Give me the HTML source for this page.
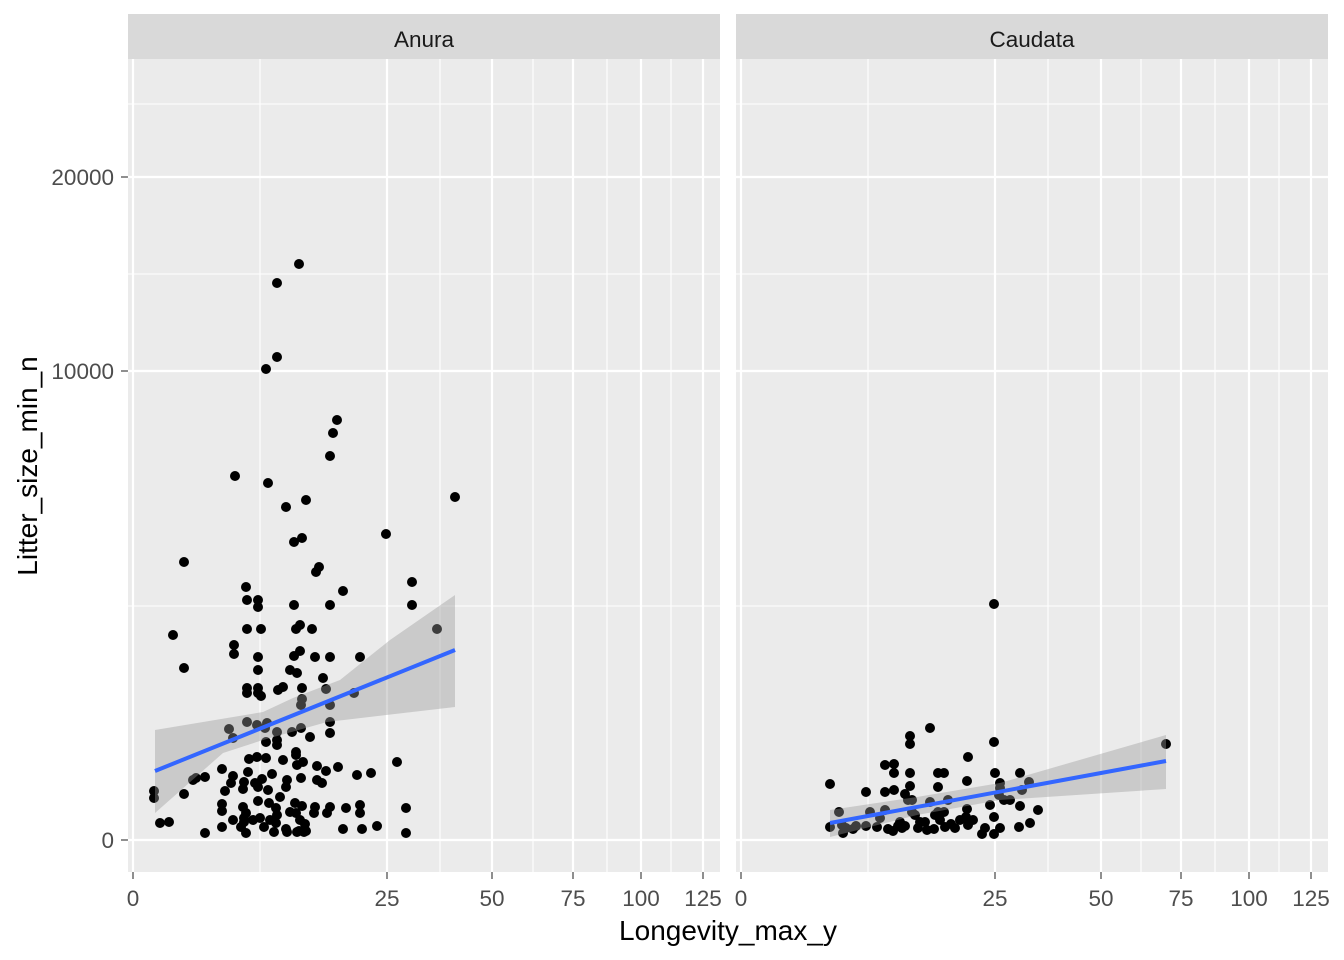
<!DOCTYPE html>
<html><head><meta charset="utf-8"><style>body{margin:0;background:#fff}svg{display:block}.p circle{r:5px}</style></head><body>
<svg width="1344" height="960" xmlns="http://www.w3.org/2000/svg" font-family="Liberation Sans, sans-serif">
<rect width="1344" height="960" fill="#fff"/>
<rect x="128" y="59" width="592" height="813" fill="#ebebeb"/>
<rect x="736" y="59" width="592" height="813" fill="#ebebeb"/>
<rect x="128" y="14" width="592" height="45" fill="#d9d9d9"/>
<rect x="736" y="14" width="592" height="45" fill="#d9d9d9"/>
<text x="424" y="47" font-size="22.5" fill="#1a1a1a" text-anchor="middle">Anura</text>
<text x="1032" y="47" font-size="22.5" fill="#1a1a1a" text-anchor="middle">Caudata</text>
<g stroke="#fff" stroke-width="1.1">
<line x1="128" x2="720" y1="606" y2="606"/><line x1="128" x2="720" y1="274" y2="274"/><line x1="128" x2="720" y1="104" y2="104"/>
<line x1="736" x2="1328" y1="606" y2="606"/><line x1="736" x2="1328" y1="274" y2="274"/><line x1="736" x2="1328" y1="104" y2="104"/>
<line y1="59" y2="872" x1="260" x2="260"/><line y1="59" y2="872" x1="440" x2="440"/><line y1="59" y2="872" x1="533" x2="533"/><line y1="59" y2="872" x1="607" x2="607"/><line y1="59" y2="872" x1="671" x2="671"/>
<line y1="59" y2="872" x1="868" x2="868"/><line y1="59" y2="872" x1="1048" x2="1048"/><line y1="59" y2="872" x1="1141" x2="1141"/><line y1="59" y2="872" x1="1215" x2="1215"/><line y1="59" y2="872" x1="1279" x2="1279"/>
</g>
<g stroke="#fff" stroke-width="2.2">
<line x1="128" x2="720" y1="840" y2="840"/><line x1="128" x2="720" y1="371" y2="371"/><line x1="128" x2="720" y1="177" y2="177"/>
<line x1="736" x2="1328" y1="840" y2="840"/><line x1="736" x2="1328" y1="371" y2="371"/><line x1="736" x2="1328" y1="177" y2="177"/>
<line y1="59" y2="872" x1="133" x2="133"/><line y1="59" y2="872" x1="387" x2="387"/><line y1="59" y2="872" x1="492" x2="492"/><line y1="59" y2="872" x1="573" x2="573"/><line y1="59" y2="872" x1="641" x2="641"/><line y1="59" y2="872" x1="703" x2="703"/>
<line y1="59" y2="872" x1="741" x2="741"/><line y1="59" y2="872" x1="995" x2="995"/><line y1="59" y2="872" x1="1101" x2="1101"/><line y1="59" y2="872" x1="1181" x2="1181"/><line y1="59" y2="872" x1="1249" x2="1249"/><line y1="59" y2="872" x1="1311" x2="1311"/>
</g>
<g fill="#000" class="p">
<circle cx="299" cy="264" r="5"/><circle cx="277" cy="283" r="5"/><circle cx="277" cy="357" r="5"/><circle cx="266" cy="369" r="5"/><circle cx="337" cy="420" r="5"/><circle cx="333" cy="433" r="5"/><circle cx="330" cy="456" r="5"/><circle cx="235" cy="476" r="5"/><circle cx="268" cy="483" r="5"/><circle cx="455" cy="497" r="5"/><circle cx="286" cy="507" r="5"/><circle cx="306" cy="500" r="5"/><circle cx="302" cy="538" r="5"/><circle cx="294" cy="542" r="5"/><circle cx="386" cy="534" r="5"/><circle cx="184" cy="562" r="5"/><circle cx="319" cy="567" r="5"/><circle cx="316" cy="572" r="5"/><circle cx="246" cy="587" r="5"/><circle cx="412" cy="582" r="5"/><circle cx="343" cy="591" r="5"/><circle cx="247" cy="600" r="5"/><circle cx="258" cy="600" r="5"/><circle cx="258" cy="607" r="5"/><circle cx="294" cy="605" r="5"/><circle cx="330" cy="605" r="5"/><circle cx="412" cy="605" r="5"/><circle cx="173" cy="635" r="5"/><circle cx="247" cy="629" r="5"/><circle cx="261" cy="629" r="5"/><circle cx="296" cy="629" r="5"/><circle cx="300" cy="625" r="5"/><circle cx="312" cy="629" r="5"/><circle cx="234" cy="645" r="5"/><circle cx="234" cy="654" r="5"/><circle cx="258" cy="657" r="5"/><circle cx="294" cy="656" r="5"/><circle cx="300" cy="651" r="5"/><circle cx="315" cy="657" r="5"/><circle cx="330" cy="657" r="5"/><circle cx="360" cy="657" r="5"/><circle cx="184" cy="668" r="5"/><circle cx="258" cy="670" r="5"/><circle cx="290" cy="670" r="5"/><circle cx="297" cy="673" r="5"/><circle cx="323" cy="678" r="5"/><circle cx="247" cy="688" r="5"/><circle cx="247" cy="693" r="5"/><circle cx="258" cy="688" r="5"/><circle cx="258" cy="693" r="5"/><circle cx="261" cy="696" r="5"/><circle cx="283" cy="687" r="5"/><circle cx="278" cy="690" r="5"/><circle cx="302" cy="688" r="5"/><circle cx="302" cy="699" r="5"/><circle cx="326" cy="689" r="5"/><circle cx="301" cy="705" r="5"/><circle cx="330" cy="705" r="5"/><circle cx="354" cy="693" r="5"/><circle cx="229" cy="729" r="5"/><circle cx="233" cy="738" r="5"/><circle cx="247" cy="722" r="5"/><circle cx="257" cy="725" r="5"/><circle cx="265" cy="728" r="5"/><circle cx="267" cy="723" r="5"/><circle cx="266" cy="742" r="5"/><circle cx="277" cy="732" r="5"/><circle cx="292" cy="732" r="5"/><circle cx="277" cy="740" r="5"/><circle cx="301" cy="728" r="5"/><circle cx="296" cy="752" r="5"/><circle cx="310" cy="737" r="5"/><circle cx="330" cy="722" r="5"/><circle cx="330" cy="733" r="5"/><circle cx="296" cy="755" r="5"/><circle cx="277" cy="745" r="5"/><circle cx="266" cy="758" r="5"/><circle cx="249" cy="759" r="5"/><circle cx="257" cy="757" r="5"/><circle cx="283" cy="760" r="5"/><circle cx="297" cy="765" r="5"/><circle cx="303" cy="762" r="5"/><circle cx="338" cy="767" r="5"/><circle cx="301" cy="778" r="5"/><circle cx="317" cy="766" r="5"/><circle cx="357" cy="775" r="5"/><circle cx="371" cy="773" r="5"/><circle cx="397" cy="762" r="5"/><circle cx="222" cy="769" r="5"/><circle cx="233" cy="776" r="5"/><circle cx="248" cy="772" r="5"/><circle cx="244" cy="782" r="5"/><circle cx="255" cy="783" r="5"/><circle cx="262" cy="779" r="5"/><circle cx="272" cy="774" r="5"/><circle cx="287" cy="780" r="5"/><circle cx="286" cy="787" r="5"/><circle cx="317" cy="780" r="5"/><circle cx="322" cy="783" r="5"/><circle cx="326" cy="771" r="5"/><circle cx="231" cy="783" r="5"/><circle cx="193" cy="780" r="5"/><circle cx="196" cy="778" r="5"/><circle cx="205" cy="777" r="5"/><circle cx="184" cy="794" r="5"/><circle cx="154" cy="791" r="5"/><circle cx="154" cy="798" r="5"/><circle cx="225" cy="791" r="5"/><circle cx="243" cy="789" r="5"/><circle cx="258" cy="787" r="5"/><circle cx="268" cy="790" r="5"/><circle cx="258" cy="801" r="5"/><circle cx="243" cy="807" r="5"/><circle cx="246" cy="813" r="5"/><circle cx="269" cy="803" r="5"/><circle cx="280" cy="797" r="5"/><circle cx="276" cy="808" r="5"/><circle cx="295" cy="803" r="5"/><circle cx="296" cy="813" r="5"/><circle cx="302" cy="806" r="5"/><circle cx="315" cy="807" r="5"/><circle cx="330" cy="807" r="5"/><circle cx="360" cy="805" r="5"/><circle cx="360" cy="813" r="5"/><circle cx="327" cy="813" r="5"/><circle cx="346" cy="808" r="5"/><circle cx="406" cy="808" r="5"/><circle cx="222" cy="804" r="5"/><circle cx="222" cy="811" r="5"/><circle cx="233" cy="820" r="5"/><circle cx="244" cy="818" r="5"/><circle cx="244" cy="822" r="5"/><circle cx="253" cy="820" r="5"/><circle cx="260" cy="818" r="5"/><circle cx="270" cy="820" r="5"/><circle cx="276" cy="823" r="5"/><circle cx="286" cy="829" r="5"/><circle cx="300" cy="820" r="5"/><circle cx="305" cy="824" r="5"/><circle cx="299" cy="831" r="5"/><circle cx="306" cy="831" r="5"/><circle cx="314" cy="813" r="5"/><circle cx="160" cy="823" r="5"/><circle cx="169" cy="822" r="5"/><circle cx="205" cy="833" r="5"/><circle cx="222" cy="827" r="5"/><circle cx="241" cy="827" r="5"/><circle cx="246" cy="833" r="5"/><circle cx="264" cy="827" r="5"/><circle cx="274" cy="832" r="5"/><circle cx="287" cy="832" r="5"/><circle cx="297" cy="832" r="5"/><circle cx="304" cy="832" r="5"/><circle cx="343" cy="829" r="5"/><circle cx="362" cy="829" r="5"/><circle cx="377" cy="826" r="5"/><circle cx="406" cy="833" r="5"/><circle cx="277" cy="815" r="5"/><circle cx="290" cy="812" r="5"/><circle cx="437" cy="629" r="5"/>
<circle cx="994" cy="604" r="5"/><circle cx="930" cy="728" r="5"/><circle cx="910" cy="736" r="5"/><circle cx="910" cy="744" r="5"/><circle cx="968" cy="757" r="5"/><circle cx="1166" cy="744" r="5"/><circle cx="830" cy="784" r="5"/><circle cx="830" cy="827" r="5"/><circle cx="839" cy="812" r="5"/><circle cx="843" cy="833" r="5"/><circle cx="866" cy="792" r="5"/><circle cx="885" cy="765" r="5"/><circle cx="894" cy="764" r="5"/><circle cx="885" cy="792" r="5"/><circle cx="894" cy="790" r="5"/><circle cx="894" cy="773" r="5"/><circle cx="910" cy="773" r="5"/><circle cx="910" cy="786" r="5"/><circle cx="938" cy="773" r="5"/><circle cx="944" cy="773" r="5"/><circle cx="938" cy="787" r="5"/><circle cx="967" cy="781" r="5"/><circle cx="994" cy="742" r="5"/><circle cx="995" cy="773" r="5"/><circle cx="1020" cy="773" r="5"/><circle cx="1029" cy="782" r="5"/><circle cx="999" cy="795" r="5"/><circle cx="1010" cy="800" r="5"/><circle cx="1038" cy="810" r="5"/><circle cx="1030" cy="823" r="5"/><circle cx="1019" cy="827" r="5"/><circle cx="994" cy="817" r="5"/><circle cx="1000" cy="828" r="5"/><circle cx="982" cy="834" r="5"/><circle cx="994" cy="834" r="5"/><circle cx="985" cy="828" r="5"/><circle cx="966" cy="817" r="5"/><circle cx="968" cy="825" r="5"/><circle cx="951" cy="824" r="5"/><circle cx="944" cy="812" r="5"/><circle cx="940" cy="820" r="5"/><circle cx="934" cy="829" r="5"/><circle cx="927" cy="830" r="5"/><circle cx="925" cy="822" r="5"/><circle cx="918" cy="828" r="5"/><circle cx="912" cy="812" r="5"/><circle cx="908" cy="800" r="5"/><circle cx="905" cy="794" r="5"/><circle cx="902" cy="828" r="5"/><circle cx="900" cy="822" r="5"/><circle cx="905" cy="826" r="5"/><circle cx="898" cy="826" r="5"/><circle cx="893" cy="831" r="5"/><circle cx="888" cy="829" r="5"/><circle cx="877" cy="827" r="5"/><circle cx="866" cy="826" r="5"/><circle cx="856" cy="826" r="5"/><circle cx="853" cy="829" r="5"/><circle cx="846" cy="828" r="5"/><circle cx="842" cy="825" r="5"/><circle cx="870" cy="812" r="5"/><circle cx="880" cy="818" r="5"/><circle cx="885" cy="810" r="5"/><circle cx="912" cy="800" r="5"/><circle cx="920" cy="822" r="5"/><circle cx="930" cy="802" r="5"/><circle cx="938" cy="812" r="5"/><circle cx="960" cy="820" r="5"/><circle cx="955" cy="828" r="5"/><circle cx="945" cy="827" r="5"/><circle cx="948" cy="800" r="5"/><circle cx="967" cy="809" r="5"/><circle cx="973" cy="820" r="5"/><circle cx="1000" cy="788" r="5"/><circle cx="990" cy="805" r="5"/><circle cx="1004" cy="800" r="5"/><circle cx="935" cy="815" r="5"/><circle cx="915" cy="815" r="5"/><circle cx="1020" cy="806" r="5"/><circle cx="1022" cy="790" r="5"/><circle cx="1000" cy="783" r="5"/>
</g>
<polygon points="155,730 263,712 293,698 340,680 390,640 455,595 455,707 327,722 263,740 223,753 155,813" fill="#999" fill-opacity="0.4"/>
<polygon points="830,810 917,797 1000,783 1166,735 1166,789 1000,800 917,815 830,837" fill="#999" fill-opacity="0.4"/>
<line x1="155" y1="771" x2="455" y2="650" stroke="#3366ff" stroke-width="4"/>
<line x1="830" y1="823" x2="1166" y2="761" stroke="#3366ff" stroke-width="4"/>
<g stroke="#333" stroke-width="1.1">
<line x1="121" x2="128" y1="840" y2="840"/><line x1="121" x2="128" y1="371" y2="371"/><line x1="121" x2="128" y1="177" y2="177"/>
<line y1="872" y2="879" x1="133" x2="133"/><line y1="872" y2="879" x1="387" x2="387"/><line y1="872" y2="879" x1="492" x2="492"/><line y1="872" y2="879" x1="573" x2="573"/><line y1="872" y2="879" x1="641" x2="641"/><line y1="872" y2="879" x1="703" x2="703"/>
<line y1="872" y2="879" x1="741" x2="741"/><line y1="872" y2="879" x1="995" x2="995"/><line y1="872" y2="879" x1="1101" x2="1101"/><line y1="872" y2="879" x1="1181" x2="1181"/><line y1="872" y2="879" x1="1249" x2="1249"/><line y1="872" y2="879" x1="1311" x2="1311"/>
</g>
<g font-size="22.5" fill="#4d4d4d">
<g text-anchor="end"><text x="114" y="848">0</text><text x="114" y="379">10000</text><text x="114" y="185">20000</text></g>
<g text-anchor="middle">
<text x="133" y="906">0</text><text x="387" y="906">25</text><text x="492" y="906">50</text><text x="573" y="906">75</text><text x="641" y="906">100</text><text x="703" y="906">125</text>
<text x="741" y="906">0</text><text x="995" y="906">25</text><text x="1101" y="906">50</text><text x="1181" y="906">75</text><text x="1249" y="906">100</text><text x="1311" y="906">125</text>
</g></g>
<text x="728" y="940" font-size="28" fill="#000" text-anchor="middle">Longevity_max_y</text>
<text transform="translate(37,466) rotate(-90)" font-size="28" fill="#000" text-anchor="middle">Litter_size_min_n</text>
</svg>
</body></html>
